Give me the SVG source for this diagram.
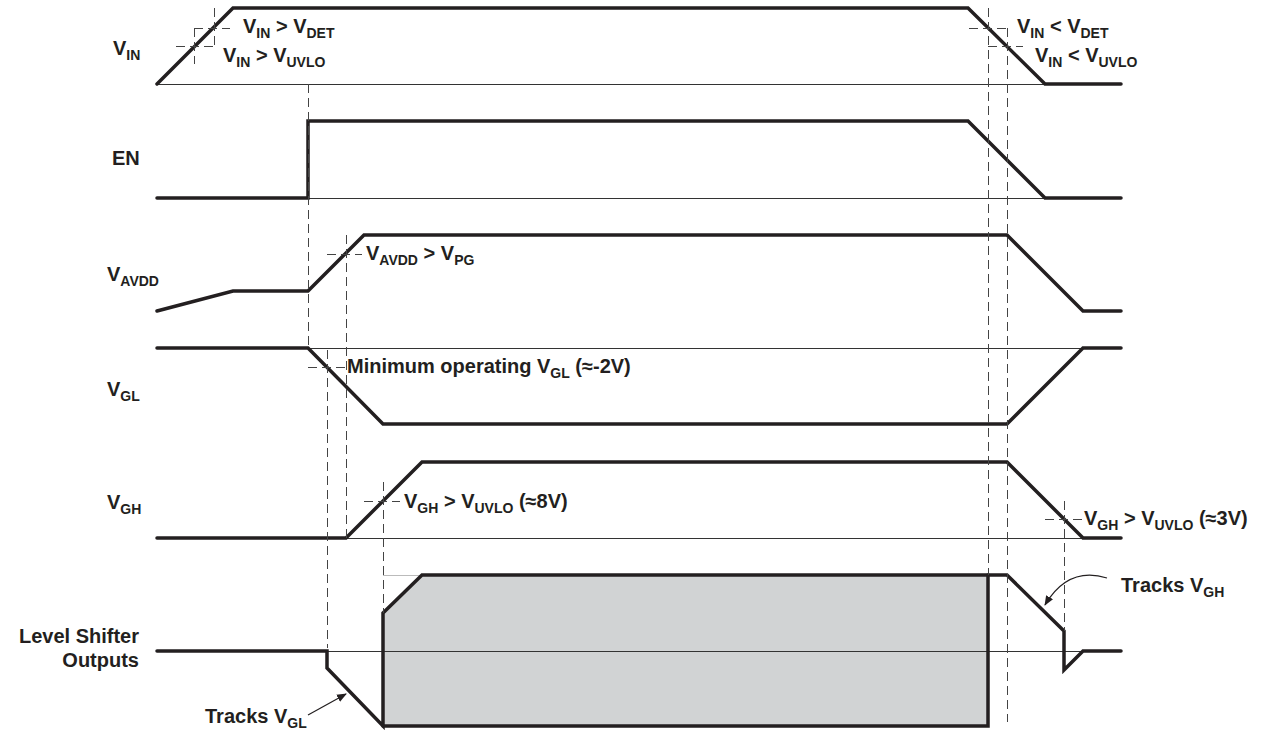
<svg xmlns="http://www.w3.org/2000/svg" width="1263" height="734" viewBox="0 0 1263 734">
<defs>
<style>
.thick{fill:none;stroke:#231f20;stroke-width:3.5;stroke-linejoin:miter;stroke-linecap:round}
.thin{fill:none;stroke:#333;stroke-width:1}
.dash{fill:none;stroke:#444;stroke-width:1;stroke-dasharray:9,5}
.lbl{font-family:"Liberation Sans",Arial,sans-serif;font-weight:bold;font-size:20px;fill:#231f20}
.sub{font-size:14px}
</style>
<marker id="ah" viewBox="0 0 10 10" refX="9" refY="5" markerWidth="10" markerHeight="10" markerUnits="userSpaceOnUse" orient="auto">
<path d="M0,1 L10,5 L0,9 Z" fill="#231f20"/>
</marker>
</defs>
<rect width="1263" height="734" fill="#fff"/>

<g id="vin">
<line class="thin" x1="157" y1="84.5" x2="1045" y2="84.5"/>
<polyline class="thick" points="157,84 233,8 968,8 1045,84 1121,84"/>
<text class="lbl" x="113" y="55">V<tspan class="sub" dy="5">IN</tspan></text>
<text class="lbl" x="243" y="33">V<tspan class="sub" dy="5">IN</tspan><tspan dy="-5"> &gt; V</tspan><tspan class="sub" dy="5">DET</tspan></text>
<text class="lbl" x="223" y="62">V<tspan class="sub" dy="5">IN</tspan><tspan dy="-5"> &gt; V</tspan><tspan class="sub" dy="5">UVLO</tspan></text>
<text class="lbl" x="1017" y="33">V<tspan class="sub" dy="5">IN</tspan><tspan dy="-5"> &lt; V</tspan><tspan class="sub" dy="5">DET</tspan></text>
<text class="lbl" x="1035" y="62">V<tspan class="sub" dy="5">IN</tspan><tspan dy="-5"> &lt; V</tspan><tspan class="sub" dy="5">UVLO</tspan></text>
</g>

<g id="en">
<line class="thin" x1="308" y1="198.5" x2="1045" y2="198.5"/>
<polyline class="thick" points="157,198 308,198 308,121 968,121 1045,198 1121,198"/>
<text class="lbl" x="112" y="165">EN</text>
</g>

<g id="vavdd">
<polyline class="thick" points="157,311 233,291 308,291 364,235 1007,235 1083,311 1121,311"/>
<text class="lbl" x="107" y="281">V<tspan class="sub" dy="5">AVDD</tspan></text>
<text class="lbl" x="366" y="260">V<tspan class="sub" dy="5">AVDD</tspan><tspan dy="-5"> &gt; V</tspan><tspan class="sub" dy="5">PG</tspan></text>
</g>

<g id="vgl">
<line class="thin" x1="308" y1="348.5" x2="1121" y2="348.5"/>
<polyline class="thick" points="157,348 308,348 383,424 1007,424 1083,348 1121,348"/>
<text class="lbl" x="107" y="396">V<tspan class="sub" dy="5">GL</tspan></text>
<text class="lbl" x="347" y="373">Minimum operating V<tspan class="sub" dy="5">GL</tspan><tspan dy="-5"> (≈-2V)</tspan></text>
</g>

<g id="vgh">
<line class="thin" x1="346" y1="538.5" x2="1083" y2="538.5"/>
<polyline class="thick" points="157,538 346,538 422,462 1007,462 1083,538 1121,538"/>
<text class="lbl" x="107" y="509">V<tspan class="sub" dy="5">GH</tspan></text>
<text class="lbl" x="404" y="508">V<tspan class="sub" dy="5">GH</tspan><tspan dy="-5"> &gt; V</tspan><tspan class="sub" dy="5">UVLO</tspan><tspan dy="-5"> (≈8V)</tspan></text>
<text class="lbl" x="1084" y="525">V<tspan class="sub" dy="5">GH</tspan><tspan dy="-5"> &gt; V</tspan><tspan class="sub" dy="5">UVLO</tspan><tspan dy="-5"> (≈3V)</tspan></text>
</g>

<g id="level-shifter">
<polygon points="383,726 383,613 422,575 988,575 988,726" fill="#d1d3d4"/>
<line x1="383" y1="575.5" x2="422" y2="575.5" stroke="#bbb" stroke-width="1"/>
<line class="thin" x1="327" y1="651.5" x2="1121" y2="651.5"/>
<polyline class="thick" points="157,651 327,651 327,668 383,726 383,613 422,575 1007,575 1064,631 1064,670 1083,651 1121,651"/>
<polyline class="thick" points="383,726 988,726 988,575"/>
<text class="lbl" x="139" y="643" text-anchor="end">Level Shifter</text>
<text class="lbl" x="139" y="667" text-anchor="end">Outputs</text>
<text class="lbl" x="205" y="723">Tracks V<tspan class="sub" dy="5">GL</tspan></text>
<text class="lbl" x="1121" y="592">Tracks V<tspan class="sub" dy="5">GH</tspan></text>
</g>

<g id="connectors">
<line class="dash" x1="214.5" y1="8" x2="214.5" y2="46"/>
<line class="dash" x1="194.5" y1="28" x2="194.5" y2="64"/>
<line class="dash" x1="194" y1="28.5" x2="230" y2="28.5"/>
<line class="dash" x1="176" y1="46.5" x2="214" y2="46.5"/>
<line class="dash" x1="969" y1="28.5" x2="1007" y2="28.5"/>
<line class="dash" x1="988" y1="46.5" x2="1023" y2="46.5"/>
<line class="dash" x1="988.5" y1="8" x2="988.5" y2="575"/>
<line class="dash" x1="1007.5" y1="28" x2="1007.5" y2="722"/>
<line class="dash" x1="308.5" y1="84" x2="308.5" y2="348"/>
<line class="dash" x1="327" y1="254.5" x2="362" y2="254.5"/>
<line class="dash" x1="346.5" y1="235" x2="346.5" y2="538"/>
<line class="dash" x1="308" y1="367.5" x2="346" y2="367.5"/>
<line class="dash" x1="327.5" y1="350" x2="327.5" y2="648"/>
<line class="dash" x1="364" y1="501.5" x2="400" y2="501.5"/>
<line class="dash" x1="383.5" y1="482" x2="383.5" y2="613"/>
<line class="dash" x1="1045" y1="519.5" x2="1082" y2="519.5"/>
<line class="dash" x1="1064.5" y1="501" x2="1064.5" y2="631"/>
<line x1="308" y1="715" x2="346" y2="694" stroke="#231f20" stroke-width="1.2" marker-end="url(#ah)"/>
<path d="M1107,578 Q1068,566 1045,605" fill="none" stroke="#231f20" stroke-width="1.2" marker-end="url(#ah)"/>
</g>
</svg>
